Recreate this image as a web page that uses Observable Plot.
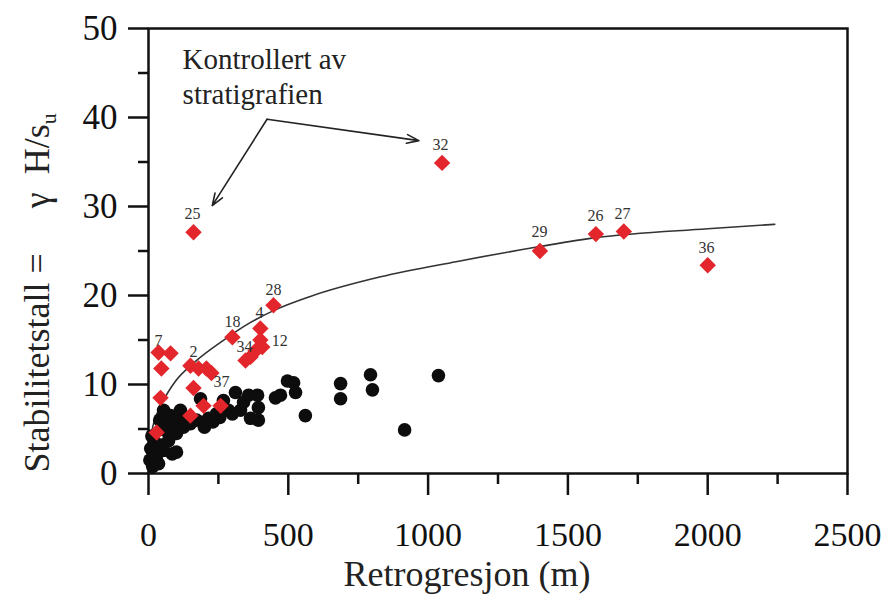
<!DOCTYPE html>
<html>
<head>
<meta charset="utf-8">
<script src="https://cdn.jsdelivr.net/npm/d3@7"></script>
<script src="https://cdn.jsdelivr.net/npm/@observablehq/plot@0.6"></script>
<style>
html, body { margin: 0; padding: 0; background: #fff; }
</style>
</head>
<body>
<div id="chart"></div>
<script>
// Black dots: retrogression (m) and stability number
const blackX = [5, 8, 15, 28, 36, 18, 22, 12, 35, 45, 54, 72, 85, 100, 100, 62, 54, 89, 40, 60, 54, 79, 114, 100, 136, 125, 150, 172, 186, 200, 215, 230, 243, 255, 268, 286, 300, 311, 329, 340, 358, 365, 390, 393, 393, 454, 472, 497, 519, 526, 561, 687, 687, 794, 801, 916, 1037];
const blackY = [1.5, 2.8, 0.8, 1.6, 1.1, 2.2, 3.5, 4.2, 3.0, 3.2, 2.6, 3.7, 2.2, 2.4, 4.5, 4.8, 5.4, 5.4, 6.0, 6.5, 7.1, 6.5, 7.1, 6.0, 6.3, 5.2, 5.6, 6.0, 8.4, 5.2, 6.2, 5.8, 6.7, 6.3, 8.2, 7.1, 6.7, 9.1, 7.1, 8.0, 8.8, 6.2, 8.8, 7.4, 6.0, 8.5, 8.8, 10.4, 10.2, 9.1, 6.5, 10.1, 8.4, 11.1, 9.4, 4.9, 11.0];

// Red diamonds
const redX = [36, 79, 46, 43, 29, 150, 179, 207, 225, 161, 150, 197, 258, 300, 447, 400, 400, 407, 383, 365, 347, 161, 1050, 1400, 1600, 1700, 2000];
const redY = [13.6, 13.5, 11.8, 8.5, 4.6, 12.1, 11.8, 11.8, 11.3, 9.6, 6.5, 7.6, 7.6, 15.3, 18.9, 16.3, 15.0, 14.2, 13.8, 13.1, 12.7, 27.1, 34.9, 25.0, 26.9, 27.2, 23.4];

// Case number labels
const labelText = ["7", "2", "37", "18", "34", "4", "28", "12", "25", "32", "29", "26", "27", "36"];
const labelX = [36, 161, 261, 300, 343, 397, 447, 469, 157, 1044, 1398, 1599, 1695, 1996];
const labelY = [14.9, 13.7, 10.3, 17.0, 14.2, 18.1, 20.6, 14.9, 29.2, 36.9, 27.1, 28.9, 29.2, 25.3];

// Fitted curve
const curveX = [10, 18, 50, 97, 161, 279, 340, 447, 579, 830, 1100, 1400, 1600, 2000, 2240];
const curveY = [4.5, 5.6, 8.0, 10.4, 12.4, 15.2, 16.5, 18.3, 19.9, 22.1, 23.8, 25.5, 26.5, 27.5, 28.0];

// Annotation arrows
const arrowX1 = [424, 424];
const arrowY1 = [39.8, 39.8];
const arrowX2 = [228, 967];
const arrowY2 = [30.1, 37.4];
const annotationText = ["Kontrollert av\nstratigrafien"];
const annotationX = [122];
const annotationY = [44.7];

// Ticks
const xMajorTicks = [0, 500, 1000, 1500, 2000, 2500];
const xMinorTicks = [250, 750, 1250, 1750, 2250];
const yMajorTicks = [0, 10, 20, 30, 40, 50];
const yMinorTicks = [5, 15, 25, 35, 45];

const xTitle = "Retrogresjon (m)";
const yTitleMain = "Stabilitetstall =\u00a0\u00a0\u00a0\u00a0\u00a0γ\u00a0\u00a0H/s";
const yTitleSub = "u";

const serif = "'Liberation Serif', 'Times New Roman', 'DejaVu Serif', serif";

const chart = Plot.plot({
  width: 883,
  height: 596,
  marginLeft: 148,
  marginRight: 36,
  marginTop: 28,
  marginBottom: 123,
  style: { fontFamily: serif, background: "#fff", color: "#111" },
  x: { domain: [0, 2500], label: null },
  y: { domain: [0, 50], label: null },
  marks: [
    Plot.frame({ stroke: "#111", strokeWidth: 2.5 }),
    Plot.axisX(xMajorTicks, { tickSize: 22, tickPadding: 26, fontSize: 34, strokeWidth: 2.5, tickFormat: d3.format("d"), label: null }),
    Plot.axisX(xMinorTicks, { tickSize: 11, strokeWidth: 2.5, tickFormat: () => "", label: null }),
    Plot.axisY(yMajorTicks, { tickSize: 20, tickPadding: 11, fontSize: 35, strokeWidth: 2.5, tickFormat: d3.format("d"), label: null }),
    Plot.axisY(yMinorTicks, { tickSize: 10, strokeWidth: 2.5, tickFormat: () => "", label: null }),
    Plot.line(curveX.map((_, i) => i), { x: curveX, y: curveY, curve: "monotone-x", stroke: "#333", strokeWidth: 1.6 }),
    Plot.dot(blackX.map((_, i) => i), { x: blackX, y: blackY, r: 6.8, fill: "#0d0d0d", stroke: "none" }),
    Plot.dot(redX.map((_, i) => i), { x: redX, y: redY, symbol: "diamond2", r: 7.4, fill: "#e3262b", stroke: "none" }),
    Plot.text(labelText.map((_, i) => i), { x: labelX, y: labelY, text: labelText, fontSize: 16, fill: "#333" }),
    Plot.arrow(arrowX1.map((_, i) => i), { x1: arrowX1, y1: arrowY1, x2: arrowX2, y2: arrowY2, stroke: "#222", strokeWidth: 1.6, headLength: 12, headAngle: 40 }),
    Plot.text(annotationText, { x: annotationX, y: annotationY, text: d => d, textAnchor: "start", lineHeight: 1.2, fontSize: 29, fill: "#222" }),
    Plot.text([xTitle], { frameAnchor: "bottom", text: d => d, dx: -31, dy: 112, fontSize: 36, fill: "#222" }),
    Plot.text([yTitleMain], { frameAnchor: "bottom-left", text: d => d, rotate: -90, textAnchor: "start", dx: -100, dy: -1, fontSize: 36, fill: "#222" })
  ]
});

// add the subscript "u" to the y-axis title
d3.select(chart).selectAll("text")
  .filter(function () { return this.textContent === yTitleMain; })
  .append("tspan").attr("dy", "0.35em").attr("font-size", 22).text(yTitleSub);

document.getElementById("chart").appendChild(chart);
</script>
</body>
</html>
